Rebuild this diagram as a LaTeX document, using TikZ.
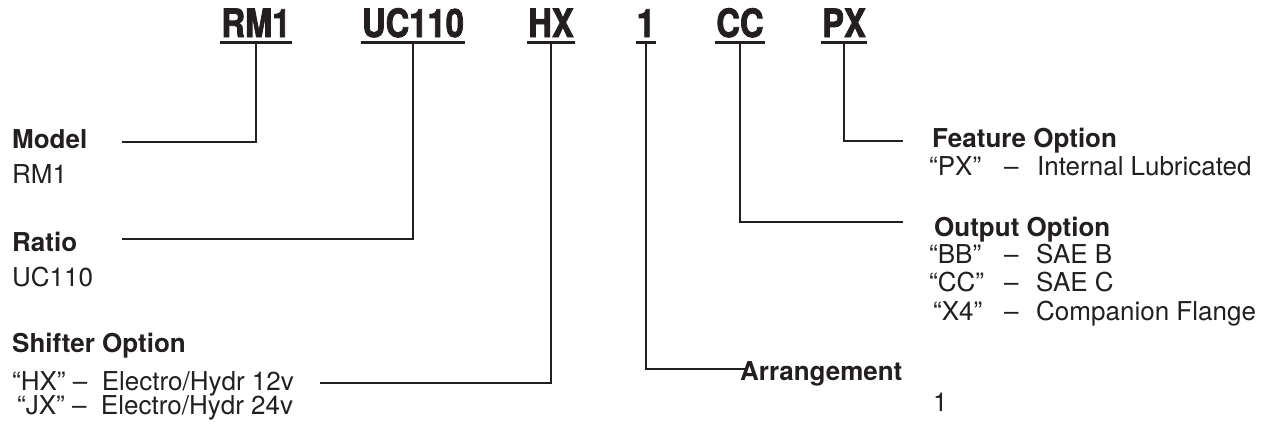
\documentclass[tikz,border=0pt]{standalone}
\usepackage{fontspec}
\setmainfont{TeX Gyre Heros}
\newfontfamily\codefont{TeX Gyre Heros}[FakeStretch=0.84,FakeBold=2]
\usepackage{xcolor}
\usetikzlibrary{positioning}
\definecolor{ink}{HTML}{231F20}
\tikzstyle{code} = [anchor=base,inner xsep=1pt,inner ysep=5pt,text=ink,font=\codefont\bfseries\fontsize{39}{40}\selectfont]
\tikzstyle{head} = [anchor=base west,inner sep=0pt,text=ink,font=\bfseries\fontsize{26}{28}\selectfont]
\tikzstyle{body} = [anchor=base west,inner sep=0pt,text=ink,font=\fontsize{26}{28}\selectfont]
\tikzstyle{uline} = [ink,line width=2.6pt]
\tikzstyle{wire} = [ink,line width=2pt]

\begin{document}
\begin{tikzpicture}[x=1pt,y=-1pt]
      \useasboundingbox (0,0) rectangle (1267,432);
      % part number
      \node[code] (rm) at (256,37) {RM1};
      \node[code] (uc) at (413,37) {UC110};
      \node[code] (hx) at (551,37) {HX};
      \node[code] (one) at (646,37) {1};
      \node[code] (cc) at (740,37) {CC};
      \node[code] (px) at (844,37) {PX};
      \foreach \c in {rm,uc,hx,one,cc,px}
        \draw[uline] (\c.south west) -- (\c.south east);

      % left side
      \node[head] (model) at (12,148) {Model};
      \node[body] (modelval) at (12,183) {RM1};
      \node[head] (ratio) at (12,251) {Ratio};
      \node[body] (ratioval) at (12,286) {UC110};
      \node[head] (shifter) at (12,352) {Shifter Option};
      \node[body] (hxrow) at (12,390) {“HX” –\ \ Electro/Hydr 12v};
      \node[body] (jxrow) at (17,414) {“JX” –\ \ Electro/Hydr 24v};

      % right side
      \node[head] (feature) at (932,147) {Feature Option};
      \node[body] (pxrow) at (929,175) {\makebox[75pt][l]{“PX”}\makebox[33pt][l]{–}Internal Lubricated};
      \node[head] (output) at (934,236) {Output Option};
      \node[body] (bbrow) at (929,263) {\makebox[75pt][l]{“BB”}\makebox[32pt][l]{–}SAE B};
      \node[body] (ccrow) at (929,291) {\makebox[75pt][l]{“CC”}\makebox[32pt][l]{–}SAE C};
      \node[body] (x4row) at (933,320) {\makebox[71pt][l]{“X4”}\makebox[32pt][l]{–}Companion Flange};
      \node[head] (arrange) at (740,380) {Arrangement};
      \node[body] (arrangeval) at (933,411) {1};

      % leaders
      \coordinate (modelend) at (122,142);
      \coordinate (ratioend) at (122,239);
      \coordinate (shifterend) at (320,383);
      \coordinate (arrangeend) at (748,369);
      \coordinate (outputend) at (903,222);
      \coordinate (featureend) at (903,141);
      \draw[wire] (rm.south) |- (modelend);
      \draw[wire] (uc.south) |- (ratioend);
      \draw[wire] (hx.south) |- (shifterend);
      \draw[wire] (one.south) |- (arrangeend);
      \draw[wire] (cc.south) |- (outputend);
      \draw[wire] (px.south) |- (featureend);
\end{tikzpicture}
\end{document}
